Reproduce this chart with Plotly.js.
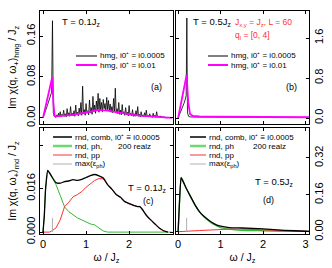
<!DOCTYPE html>
<html><head><meta charset="utf-8">
<script src="https://cdn.plot.ly/plotly-3.0.1.min.js"></script>
<style>html,body{margin:0;padding:0;background:#fff}#plot{width:332px;height:268px}</style>
</head><body><div id="plot"></div>
<script>
// ---------- data ----------
// (a) T = 0.1 Jz, hmg, i0+ = i0.0005 (uniform grid x0=0, dx=0.02)
const aBlackX0 = 0, aBlackDx = 0.02;
const aBlackY = [0,0.004,0.009,0.014,0.019,0.024,0.029,0.034,0.039,0.045,0.05,0.19,0.01,0.003,0.002,
 0.001,0.006,0.002,0.009,0.003,0.012,0.002,0.007,0.004,0.015,0.003,
 0.008,0.002,0.018,0.004,0.010,0.003,0.022,0.005,0.009,0.004,
 0.014,0.003,0.025,0.006,0.011,0.004,0.019,0.007,0.030,0.005,
 0.062,0.008,0.016,0.005,0.028,0.009,0.014,0.006,0.035,0.010,
 0.020,0.007,0.042,0.012,0.025,0.009,0.033,0.014,0.048,0.011,
 0.038,0.015,0.030,0.012,0.036,0.018,0.028,0.014,0.040,0.016,
 0.034,0.013,0.027,0.011,0.022,0.010,0.038,0.012,0.058,0.009,
 0.018,0.008,0.030,0.007,0.015,0.006,0.026,0.008,0.012,0.005,
 0.020,0.006,0.011,0.004,0.024,0.005,0.009,0.004,0.016,0.003,
 0.008,0.003,0.014,0.004,0.022,0.003,0.007,0.002,0.012,0.003,
 0.006,0.002,0.010,0.003,0.015,0.002,0.005,0.002,0.008,0.002,
 0.004,0.001,0.009,0.002,0.005,0.001,0.012,0.002,0.003,0.001,
 0.004,0.001,0.003,0.001,0.002,0.001,0.001,0,0.001,0];
// (a) hmg, i0+ = i0.01
const aMagX = [0,0.1,0.2,0.215,0.24,0.27,0.3,0.5,0.7,0.9,1.1,1.3,1.5,1.7,1.9,2.1,2.3,2.5,2.7,2.9,3.0];
const aMagY = [0,0.037,0.074,0.08,0.03,0.004,0.003,0.004,0.006,0.009,0.013,0.0155,0.014,0.011,0.008,0.006,0.004,0.003,0.0015,0.0003,0];
// (b) T = 0.5 Jz
const bBlackX = [0,0.05,0.10,0.15,0.19,0.205,0.22,0.25,0.3,0.5,1.0,1.5,2.0,2.5,3.0,3.08];
const bBlackY = [0,0.1,0.2,0.32,0.45,2.0,0.1,0.03,0.02,0.02,0.02,0.018,0.015,0.012,0.01,0.01];
const bMagX = [0,0.05,0.1,0.15,0.2,0.24,0.28,0.35,0.5,1,2,3,3.08];
const bMagY = [0,0.2,0.42,0.64,0.86,0.3,0.08,0.04,0.03,0.025,0.02,0.015,0.015];
// (c) T = 0.1 Jz, rnd
const cCombX = [0,0.03,0.06,0.11,0.2,0.3,0.4,0.5,0.6,0.7,0.8,0.9,1.0,1.1,1.2,1.3,1.4,1.5,1.6,1.7,1.8,1.9,2.0,2.1,2.2,2.25,2.3,2.4,2.5,2.6,2.7,2.8,2.9];
const cCombY = [0,0.006,0.016,0.0227,0.0205,0.0182,0.018,0.0186,0.0188,0.0193,0.019,0.0194,0.0201,0.0208,0.0212,0.0207,0.0199,0.0175,0.0158,0.0138,0.0128,0.0112,0.0105,0.0098,0.0094,0.0094,0.0085,0.0062,0.0045,0.003,0.0015,0.0005,0];
const cPhX = [0,0.03,0.06,0.11,0.2,0.3,0.4,0.5,0.6,0.7,0.8,0.9,1.0,1.1,1.15,1.2,1.3,1.4,1.5,3.0];
const cPhY = [0,0.006,0.016,0.0227,0.0205,0.0175,0.0135,0.0093,0.0075,0.0063,0.0052,0.0045,0.0036,0.003,0.0028,0.0027,0.0015,0.0004,0,0];
const cPpX = [0,0.15,0.2,0.3,0.4,0.5,0.6,0.7,0.8,0.9,1.0,1.1,1.2,1.3,1.4,1.5,1.6,1.7,1.8,1.9,2.0,2.1,2.2,2.25,2.3,2.4,2.5,2.6,2.7,2.8,2.9];
const cPpY = [0,0,0.0004,0.0015,0.0045,0.0093,0.011,0.013,0.0138,0.0149,0.0165,0.0178,0.019,0.0197,0.0196,0.0175,0.0158,0.0138,0.0128,0.0112,0.0105,0.0098,0.0094,0.0094,0.0085,0.0062,0.0045,0.003,0.0015,0.0005,0];
const cMaxX = [0.22,0.22], cMaxY = [0,0.0052];
// (d) T = 0.5 Jz, rnd
const dCombX = [0,0.03,0.07,0.1,0.15,0.2,0.3,0.4,0.5,0.6,0.7,0.8,0.9,1.0,1.2,1.5,2.0,2.5,3.0,3.08];
const dCombY = [0,0.12,0.235,0.225,0.205,0.185,0.15,0.115,0.087,0.068,0.053,0.04,0.03,0.024,0.018,0.016,0.012,0.006,0.002,0.001];
const dPhX = [0,0.03,0.07,0.1,0.15,0.2,0.3,0.4,0.5,0.6,0.7,0.8,0.9,1.0,1.2,1.5,2.0,2.5,3.0,3.08];
const dPhY = [0,0.12,0.235,0.225,0.205,0.185,0.15,0.115,0.087,0.066,0.05,0.036,0.026,0.018,0.011,0.006,0.004,0.002,0.001,0.001];
const dPpX = [0,0.1,0.3,0.5,0.8,1.0,1.2,1.5,2.0,2.5,3.0,3.08];
const dPpY = [0,0,0.003,0.005,0.008,0.01,0.011,0.011,0.009,0.006,0.002,0.001];
const dMaxX = [0.2,0.2], dMaxY = [0,0.06];

const xTicks = [0,1,2,3];
const aTicks = [0,0.08,0.16], bTicks = [0,0.8,1.6];
const cTicks = [0,0.016,0.032], cTickText = ['0.000','0.016',''];
const dTicks = [0,0.16,0.32];

// ---------- colours ----------
const BLK='#000000', MAG='#ff00ff', GRN='#33b833', RED='#ff3030', GRY='#b0b0b0', TXTRED='#ff3030';

const W=332,H=268;
const fx=p=>p/W, fy=p=>1-p/H;

const traces = [
 {x0:aBlackX0,dx:aBlackDx,y:aBlackY,xaxis:'x',yaxis:'y',mode:'lines',line:{color:BLK,width:0.8}},
 {x:aMagX,y:aMagY,xaxis:'x',yaxis:'y',mode:'lines',line:{color:MAG,width:1.8}},
 {x:bBlackX,y:bBlackY,xaxis:'x2',yaxis:'y2',mode:'lines',line:{color:BLK,width:0.8}},
 {x:bMagX,y:bMagY,xaxis:'x2',yaxis:'y2',mode:'lines',line:{color:MAG,width:1.8}},
 {x:cPhX,y:cPhY,xaxis:'x3',yaxis:'y3',mode:'lines',line:{color:GRN,width:1}},
 {x:cPpX,y:cPpY,xaxis:'x3',yaxis:'y3',mode:'lines',line:{color:RED,width:1}},
 {x:cCombX,y:cCombY,xaxis:'x3',yaxis:'y3',mode:'lines',line:{color:BLK,width:1.3,shape:'spline',smoothing:0.5}},
 {x:cMaxX,y:cMaxY,xaxis:'x3',yaxis:'y3',mode:'lines',line:{color:GRY,width:1}},
 {x:dPhX,y:dPhY,xaxis:'x4',yaxis:'y4',mode:'lines',line:{color:GRN,width:1.3,shape:'spline',smoothing:0.5}},
 {x:dPpX,y:dPpY,xaxis:'x4',yaxis:'y4',mode:'lines',line:{color:RED,width:1}},
 {x:dCombX,y:dCombY,xaxis:'x4',yaxis:'y4',mode:'lines',line:{color:BLK,width:1.3,shape:'spline',smoothing:0.5}},
 {x:dMaxX,y:dMaxY,xaxis:'x4',yaxis:'y4',mode:'lines',line:{color:GRY,width:1}}
];

const FONT='Liberation Sans, Arial, sans-serif';
const baseAx = {showgrid:false,zeroline:false,showline:true,linecolor:'#000',linewidth:1,mirror:'allticks',
  ticks:'inside',ticklen:3,tickcolor:'#000',tickwidth:1,tickfont:{size:11,family:FONT,color:'#000'}};
const LX=[40,173], RX=[176,309], TY=[11,124], BY=[128,234];
const dom = (a,b)=>[fx(a),fx(b)];
const domY = (t,b)=>[fy(b),fy(t)];

const layout = {
 width:W,height:H,margin:{l:0,r:0,t:0,b:0},showlegend:false,
 paper_bgcolor:'#fff',plot_bgcolor:'#fff',font:{family:FONT,size:9,color:'#000'},
 xaxis:Object.assign({},baseAx,{domain:dom(...LX),range:[-0.07,3.02],tickvals:xTicks,showticklabels:false,anchor:'y'}),
 yaxis:Object.assign({},baseAx,{domain:domY(...TY),range:[-0.012,0.209],tickvals:aTicks,ticktext:['0.00','0.08','0.16'],tickangle:-90,anchor:'x',
   title:{text:'Im χ(q, ω<sub>+</sub>)<sub>hmg</sub> / J<sub>z</sub>',font:{size:10.5,family:FONT},standoff:5}}),
 xaxis2:Object.assign({},baseAx,{domain:dom(...RX),range:[-0.05,3.08],tickvals:xTicks,showticklabels:false,anchor:'y2'}),
 yaxis2:Object.assign({},baseAx,{domain:domY(...TY),range:[-0.12,2.14],tickvals:bTicks,ticktext:['0.0','0.8','1.6'],tickangle:-90,side:'right',anchor:'x2'}),
 xaxis3:Object.assign({},baseAx,{domain:dom(...LX),range:[-0.07,3.02],tickvals:xTicks,ticktext:['0','1','2',''],anchor:'y3',
   title:{text:'ω / J<sub>z</sub>',font:{size:10.5,family:FONT},standoff:4}}),
 yaxis3:Object.assign({},baseAx,{domain:domY(...BY),range:[-0.0007,0.0383],tickvals:cTicks,ticktext:cTickText,tickangle:-90,anchor:'x3',
   title:{text:'Im χ(q, ω<sub>+</sub>)<sub>rnd</sub> / J<sub>z</sub>',font:{size:10.5,family:FONT},standoff:5}}),
 xaxis4:Object.assign({},baseAx,{domain:dom(...RX),range:[-0.05,3.08],tickvals:xTicks,anchor:'y4',
   title:{text:'ω / J<sub>z</sub>',font:{size:10.5,family:FONT},standoff:4}}),
 yaxis4:Object.assign({},baseAx,{domain:domY(...BY),range:[-0.01,0.45],tickvals:dTicks,ticktext:['0.00','0.16','0.32'],tickangle:-90,side:'right',anchor:'x4'}),
 annotations:[],shapes:[]
};

function txt(x,y,t,opt){layout.annotations.push(Object.assign({xref:'paper',yref:'paper',x:fx(x),y:fy(y),text:t,showarrow:false,xanchor:'left',yanchor:'middle',borderpad:0,font:{size:8,family:FONT,color:'#000'}},opt||{}));}
function leg(x1,x2,y,color,w){layout.shapes.push({type:'line',xref:'paper',yref:'paper',x0:fx(x1),x1:fx(x2),y0:fy(y),y1:fy(y),line:{color:color,width:w}});}

// (a)
txt(61,22,'T = 0.1J<sub>z</sub>',{font:{size:9.5,family:FONT}});
leg(76,97,56,BLK,1); txt(99,56,'hmg, i0⁺ = i0.0005');
leg(76,97,65,MAG,2); txt(99,65,'hmg, i0⁺ = i0.01');
txt(150,87,'(a)',{font:{size:9,family:FONT}});
// (b)
txt(192,22,'T = 0.5J<sub>z</sub>',{font:{size:9.5,family:FONT}});
txt(234,22,'J<sub>x,y</sub> = J<sub>z</sub>, L = 60',{font:{size:8.5,family:FONT,color:TXTRED}});
txt(234,35,'q<sub>l</sub> = [0, 4]',{font:{size:8.5,family:FONT,color:TXTRED}});
leg(208,228,56,BLK,1); txt(230,56,'hmg, i0⁺ = i0.0005');
leg(208,228,65,MAG,2); txt(230,65,'hmg, i0⁺ = i0.01');
txt(285,87,'(b)',{font:{size:9,family:FONT}});
// (c)
leg(53,72,137,BLK,1.5); txt(74,137,'rnd, comb, i0⁺ ≡ i0.0005');
leg(53,72,146,'#70d870',2.5); txt(74,146,'rnd, ph,'); txt(117,146,'200 realz');
leg(53,72,155,RED,1); txt(74,155,'rnd, pp');
leg(53,72,164,GRY,1); txt(74,164,'max(ε<sub>ph</sub>)');
txt(127,188,'T = 0.1J<sub>z</sub>',{font:{size:9.5,family:FONT}});
txt(142,201,'(c)',{font:{size:9,family:FONT}});
// (d)
leg(190,206,137,BLK,1.5); txt(208,137,'rnd, comb, i0⁺ ≡ i0.0005');
leg(190,206,146,'#70d870',2.5); txt(208,146,'rnd, ph'); txt(252,146,'200 realz');
leg(190,206,155,RED,1); txt(208,155,'rnd, pp');
leg(190,206,164,GRY,1); txt(208,164,'max(ε<sub>ph</sub>)');
txt(254,182,'T = 0.5J<sub>z</sub>',{font:{size:9.5,family:FONT}});
txt(262,200,'(d)',{font:{size:9,family:FONT}});

Plotly.newPlot('plot',traces,layout,{displayModeBar:false});
</script></body></html>
